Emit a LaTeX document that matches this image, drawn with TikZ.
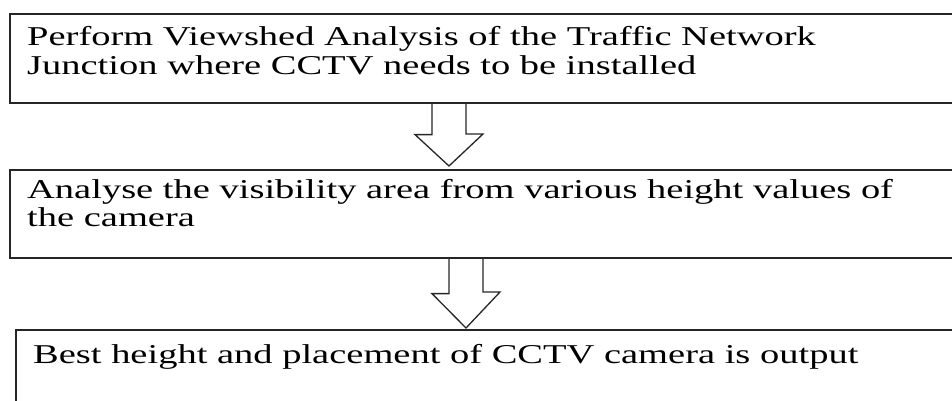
\documentclass[tikz,border=0pt]{standalone}
\usepackage{fontspec}
\setmainfont{Liberation Serif}[FakeStretch=1.415]
\usetikzlibrary{calc}
\tikzset{
  stepbox/.style={draw=black!85, line width=1.6pt, rectangle, inner sep=0pt,
    minimum width=960pt, anchor=north west},
  steptext/.style={anchor=base west, inner sep=0pt,
    font=\fontsize{27.2}{28.5}\selectfont},
  blockarrow/.style={draw=black!85, line width=1.3pt, line join=miter}
}
\begin{document}
\begin{tikzpicture}[x=1pt, y=-1pt]
\useasboundingbox (0,0) rectangle (952,401);
% process boxes (their right sides run past the page edge)
\node[stepbox, minimum height=89pt] (b1) at (9,13) {};
\node[stepbox, minimum height=88pt] (b2) at (9,169) {};
\node[stepbox, minimum height=100pt] (b3) at (15,329) {};
% box texts
\node[steptext] (t1a) at (27,46) {Perform Viewshed Analysis of the Traffic Network};
\node[steptext] (t1b) at (27,75) {Junction where CCTV needs to be installed};
\node[steptext] (t2a) at (27,198) {Analyse the visibility area from various height values of};
\node[steptext] (t2b) at (27,226) {the camera};
\node[steptext] (t3a) at (33,363) {Best height and placement of CCTV camera is output};
% hollow block arrows between the boxes
\draw[blockarrow] ($(b1.south west)+(423,0)$) -- ++(0,31) -- ++(-17,0)
  -- ($(b2.north west)+(440,-3)$) -- ++(34,-32) -- ++(-17,0) -- ++(0,-31);
\draw[blockarrow] ($(b2.south west)+(440,0)$) -- ++(0,35) -- ++(-17,0)
  -- ($(b3.north west)+(451,-1)$) -- ++(34,-36) -- ++(-17,0) -- ++(0,-35);
\end{tikzpicture}
\end{document}
